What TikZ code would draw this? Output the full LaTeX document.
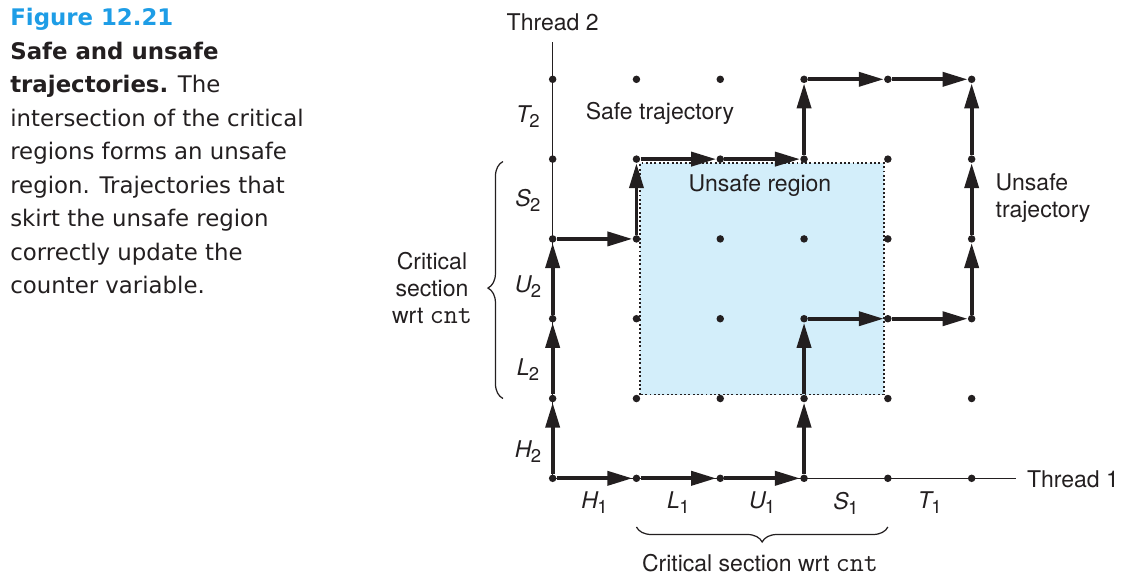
\documentclass[tikz,border=0pt]{standalone}
\usepackage{fontspec}
\setmainfont{TeX Gyre Heros}
\newfontfamily\capfont{DejaVu Sans}
\usepackage{xcolor}
\usetikzlibrary{arrows.meta,decorations.pathreplacing}
\definecolor{figblue}{HTML}{1E9DE6}
\definecolor{unsafeblue}{HTML}{D3EEFA}
\definecolor{ink}{HTML}{231F20}
\newcommand{\seg}[2]{{\itshape#1}\kern-0.03em\raisebox{-0.22em}{\fontsize{10.5}{11}\selectfont#2}}
\newcommand{\var}[1]{{\ttfamily\fontsize{15.5}{15.4}\selectfont#1}}

\begin{document}
\begin{tikzpicture}[x=1.676cm, y=1.596cm, color=ink,
  font=\fontsize{13.1}{15.4}\selectfont,
  dot/.style={circle, fill=ink, inner sep=0pt, minimum size=0.15cm},
  traj/.style={line width=0.075cm, -{Triangle[length=0.5cm,width=0.28cm]}},
  axislbl/.style={inner sep=0.22cm},
  brc/.style={decorate, line width=0.7pt}]
\useasboundingbox (-6.595,-1.249) rectangle (6.973,5.994);

% caption
\node[anchor=north west, inner sep=0pt, align=left,
  font=\capfont\fontsize{13}{19.07}\selectfont] (caption) at (-6.476,5.894)
  {\textbf{\color{figblue}Figure 12.21}\\
   \textbf{Safe and unsafe}\\
   \textbf{trajectories.} The\\
   intersection of the critical\\
   regions forms an unsafe\\
   region. Trajectories that\\
   skirt the unsafe region\\
   correctly update the\\
   counter variable.};

% unsafe region
\filldraw[fill=unsafeblue, draw=ink, line width=1.1pt, dash pattern=on 1.1pt off 1.35pt]
  ([shift={(0.08cm,0.08cm)}]1,1) rectangle ([shift={(-0.08cm,-0.08cm)}]4,4);

% progress grid
\foreach \i in {0,...,5}
  \foreach \j in {0,...,5}
    \node[dot] (d\i\j) at (\i,\j) {};

% axes
\node[axislbl, anchor=base] (thread2) at (0,5.609) {Thread 2};
\node[axislbl, anchor=base west] (thread1) at (5.525,-0.118) {Thread 1};
\draw[line width=0.75pt] (thread2.south) -- (d00.center) -- (d00.center -| thread1.west);

% safe trajectory
\foreach \x/\y [remember=\x as \px (initially 0), remember=\y as \py (initially 0)]
  in {0/1,0/2,0/3,1/3,1/4,2/4,3/4,3/5,4/5,5/5}
  \draw[traj] (d\px\py) -- (d\x\y);

% unsafe trajectory
\foreach \x/\y [remember=\x as \px (initially 0), remember=\y as \py (initially 0)]
  in {1/0,2/0,3/0,3/1,3/2,4/2,5/2,5/3,5/4,5/5}
  \draw[traj] (d\px\py) -- (d\x\y);

% instruction labels
\foreach \n/\x in {H/0.5,L/1.5,U/2.5,S/3.5,T/4.5}
  \node (l\n1) at (\x,-0.31) {\seg{\n}{1}};
\foreach \n/\y in {T/4.537,S/3.487,U/2.397,L/1.357,H/0.33}
  \node (l\n2) at (-0.295,\y) {\seg{\n}{2}};

% critical sections
\coordinate (b2lo) at (-0.593,1.0);
\coordinate (b2hi) at (-0.593,3.97);
\draw[brc, decoration={brace, amplitude=0.3cm, aspect=0.466}] (b2lo) -- (b2hi);
\node[align=center] (crit2) at (-1.44,2.385) {Critical\\section\\wrt \var{cnt}};
\coordinate (b1lo) at (1,-0.61);
\coordinate (b1hi) at (4,-0.61);
\draw[brc, decoration={brace, amplitude=0.3cm, aspect=0.5}] (b1hi) -- (b1lo);
\node (crit1) at (2.474,-1.063) {Critical section wrt \var{cnt}};

% region labels
\node (safe) at (1.28,4.578) {Safe trajectory};
\node (unsafe) at (2.474,3.663) {Unsafe region};
\node[align=left, anchor=west] (unsafetraj) at (5.212,3.506) {Unsafe\\trajectory};
\end{tikzpicture}
\end{document}
